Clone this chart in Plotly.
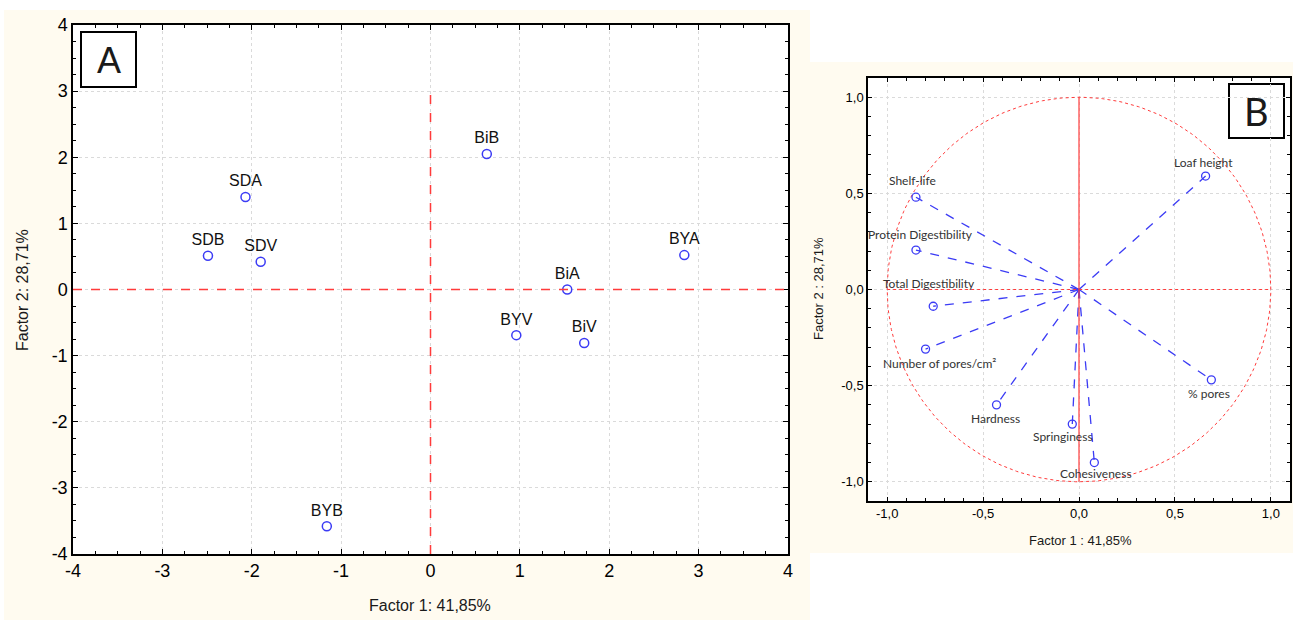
import numpy as np
import plotly.graph_objects as go

W, H = 1293, 620

# ---------------- Data ----------------
# Panel A: scores
score_labels = ["SDA", "SDB", "SDV", "BiB", "BYA", "BiA", "BYV", "BiV", "BYB"]
score_f1 = [-2.07, -2.49, -1.90, 0.63, 2.84, 1.53, 0.96, 1.72, -1.16]
score_f2 = [1.40, 0.51, 0.42, 2.05, 0.52, 0.00, -0.69, -0.81, -3.58]

# Panel B: variable loadings
var_labels = ["Loaf height", "Shelf-life", "Protein Digestibility", "Total Digestibility",
              "Number of pores/cm²", "% pores", "Hardness", "Springiness", "Cohesiveness"]
load_f1 = [0.66, -0.85, -0.85, -0.76, -0.80, 0.69, -0.43, -0.035, 0.08]
load_f2 = [0.59, 0.48, 0.205, -0.087, -0.31, -0.47, -0.60, -0.70, -0.90]

tick_a = [-4, -3, -2, -1, 0, 1, 2, 3, 4]
tick_a_text = ["-4", "-3", "-2", "-1", "0", "1", "2", "3", "4"]
tick_b = [-1.0, -0.5, 0.0, 0.5, 1.0]
tick_b_text = ["-1,0", "-0,5", "0,0", "0,5", "1,0"]

# label offsets (px) for panel B
lbl_dx = [-2, -3, 5, -4, 14, -2, -1, -9, 2]
lbl_dy = [14, 17, 16, 23, -14, -14, -14, -12, -11]

# ---------------- Styles ----------------
CREAM = "#fffbf0"
BLUE = "#3b3bf5"
RED = "#ff3b3b"
GRID = "#dadada"

def px_x(p):
    return p / W

def px_y(p):
    return (H - p) / H

fig = go.Figure()

# Panel A scatter
fig.add_trace(go.Scatter(
    x=score_f1, y=score_f2, mode="markers+text", text=score_labels,
    textposition="top center",
    textfont=dict(family="Liberation Sans, Arial", size=16, color="#111"),
    marker=dict(symbol="circle-open", size=9, color=BLUE, line=dict(width=1.5, color=BLUE)),
    xaxis="x", yaxis="y", showlegend=False, cliponaxis=False))

# Panel B: unit circle
t = np.linspace(0, 2 * np.pi, 361)
fig.add_trace(go.Scatter(
    x=np.cos(t), y=np.sin(t), mode="lines",
    line=dict(color=RED, width=1, dash="dot"),
    xaxis="x2", yaxis="y2", showlegend=False, hoverinfo="skip"))

# Panel B: loading lines
for fx, fy in zip(load_f1, load_f2):
    fig.add_trace(go.Scatter(
        x=[0, fx], y=[0, fy], mode="lines",
        line=dict(color=BLUE, width=1.3, dash="dash"),
        xaxis="x2", yaxis="y2", showlegend=False, hoverinfo="skip"))

fig.add_trace(go.Scatter(
    x=load_f1, y=load_f2, mode="markers", text=var_labels,
    marker=dict(symbol="circle-open", size=8, color=BLUE, line=dict(width=1.3, color=BLUE)),
    xaxis="x2", yaxis="y2", showlegend=False))

annotations = []
for lab, fx, fy, dx, dy in zip(var_labels, load_f1, load_f2, lbl_dx, lbl_dy):
    annotations.append(dict(
        x=fx, y=fy, xref="x2", yref="y2", text=lab, showarrow=False,
        xshift=dx, yshift=dy, xanchor="center", yanchor="middle",
        font=dict(family="Lato, Open Sans", size=12, color="#333")))

def paper_text(x, y, text, size, family, angle=0):
    return dict(x=px_x(x), y=px_y(y), xref="paper", yref="paper", text=text,
                textangle=angle, showarrow=False, xanchor="center", yanchor="middle",
                font=dict(family=family, size=size, color="#1a1a1a"))

ARIAL = "Liberation Sans, Arial"
annotations += [
    paper_text(430, 605, "Factor 1: 41,85%", 16, ARIAL),
    paper_text(22, 290, "Factor 2: 28,71%", 16, ARIAL, -90),
    paper_text(1080, 540, "Factor 1 : 41,85%", 13, ARIAL),
    paper_text(818, 289, "Factor 2 : 28,71%", 13, ARIAL, -90),
    paper_text(108.5, 60, "A", 36, ARIAL),
    paper_text(1256.5, 111, "B", 38, "Lato, Open Sans"),
]

shapes = [
    # cream backgrounds
    dict(type="rect", xref="paper", yref="paper", x0=px_x(4), x1=px_x(810), y0=0, y1=px_y(10),
         fillcolor=CREAM, line=dict(width=0), layer="below"),
    dict(type="rect", xref="paper", yref="paper", x0=px_x(810), x1=1, y0=px_y(553), y1=px_y(62),
         fillcolor=CREAM, line=dict(width=0), layer="below"),
    # white plot areas
    dict(type="rect", xref="paper", yref="paper", x0=px_x(73), x1=px_x(788), y0=px_y(554), y1=px_y(25),
         fillcolor="white", line=dict(width=0), layer="below"),
    dict(type="rect", xref="paper", yref="paper", x0=px_x(868), x1=px_x(1290), y0=px_y(501), y1=px_y(78),
         fillcolor="white", line=dict(width=0), layer="below"),
    # reference lines panel A
    dict(type="line", xref="x", yref="y", x0=-4, x1=4, y0=0, y1=0,
         line=dict(color=RED, width=1.5, dash="dash")),
    dict(type="line", xref="x", yref="y", x0=0, x1=0, y0=-4, y1=3,
         line=dict(color=RED, width=1.5, dash="dash")),
    # reference lines panel B
    dict(type="line", xref="x2", yref="y2", x0=-1, x1=1, y0=0, y1=0,
         line=dict(color=RED, width=1.2, dash="dot")),
    dict(type="line", xref="x2", yref="y2", x0=0, x1=0, y0=-1, y1=1,
         line=dict(color=RED, width=1.2)),
    # letter boxes
    dict(type="rect", xref="paper", yref="paper", x0=px_x(81), x1=px_x(136), y0=px_y(87), y1=px_y(32),
         line=dict(color="#000", width=2), fillcolor="white", layer="below"),
    dict(type="rect", xref="paper", yref="paper", x0=px_x(1229), x1=px_x(1284), y0=px_y(138), y1=px_y(84),
         line=dict(color="#000", width=2), fillcolor="white", layer="below"),
]

axA = dict(showline=True, linecolor="#000", linewidth=1.5, mirror="ticks", ticks="inside",
           ticklen=5, tickcolor="#000", showgrid=True, gridcolor=GRID, griddash="dot",
           gridwidth=1, zeroline=False,
           tickfont=dict(family=ARIAL, size=18, color="#000"),
           minor=dict(ticks="inside", ticklen=3, dtick=0.25, tickcolor="#000", showgrid=False))
axB = dict(showline=True, linecolor="#000", linewidth=1.5, mirror="ticks", ticks="inside",
           ticklen=4, tickcolor="#000", showgrid=True, gridcolor=GRID, griddash="dot",
           gridwidth=1, zeroline=False,
           tickfont=dict(family=ARIAL, size=13, color="#000"),
           minor=dict(ticks="inside", ticklen=3, dtick=0.1, tickcolor="#000", showgrid=False))

fig.update_layout(
    width=W, height=H, margin=dict(l=0, r=0, t=0, b=0, autoexpand=False),
    paper_bgcolor="white", plot_bgcolor="white",
    xaxis=dict(axA, domain=[px_x(73), px_x(788)], range=[-4, 4], tickvals=tick_a,
               ticktext=tick_a_text, anchor="y"),
    yaxis=dict(axA, domain=[px_y(554), px_y(25)], range=[-4, 4], tickvals=tick_a,
               ticktext=tick_a_text, anchor="x"),
    xaxis2=dict(axB, domain=[px_x(868), px_x(1290)], range=[-1.1, 1.1], tickvals=tick_b,
                ticktext=tick_b_text, anchor="y2"),
    yaxis2=dict(axB, domain=[px_y(501), px_y(78)], range=[-1.1, 1.1], tickvals=tick_b,
                ticktext=tick_b_text, anchor="x2"),
    shapes=shapes, annotations=annotations,
)

fig.write_html("out.html")
